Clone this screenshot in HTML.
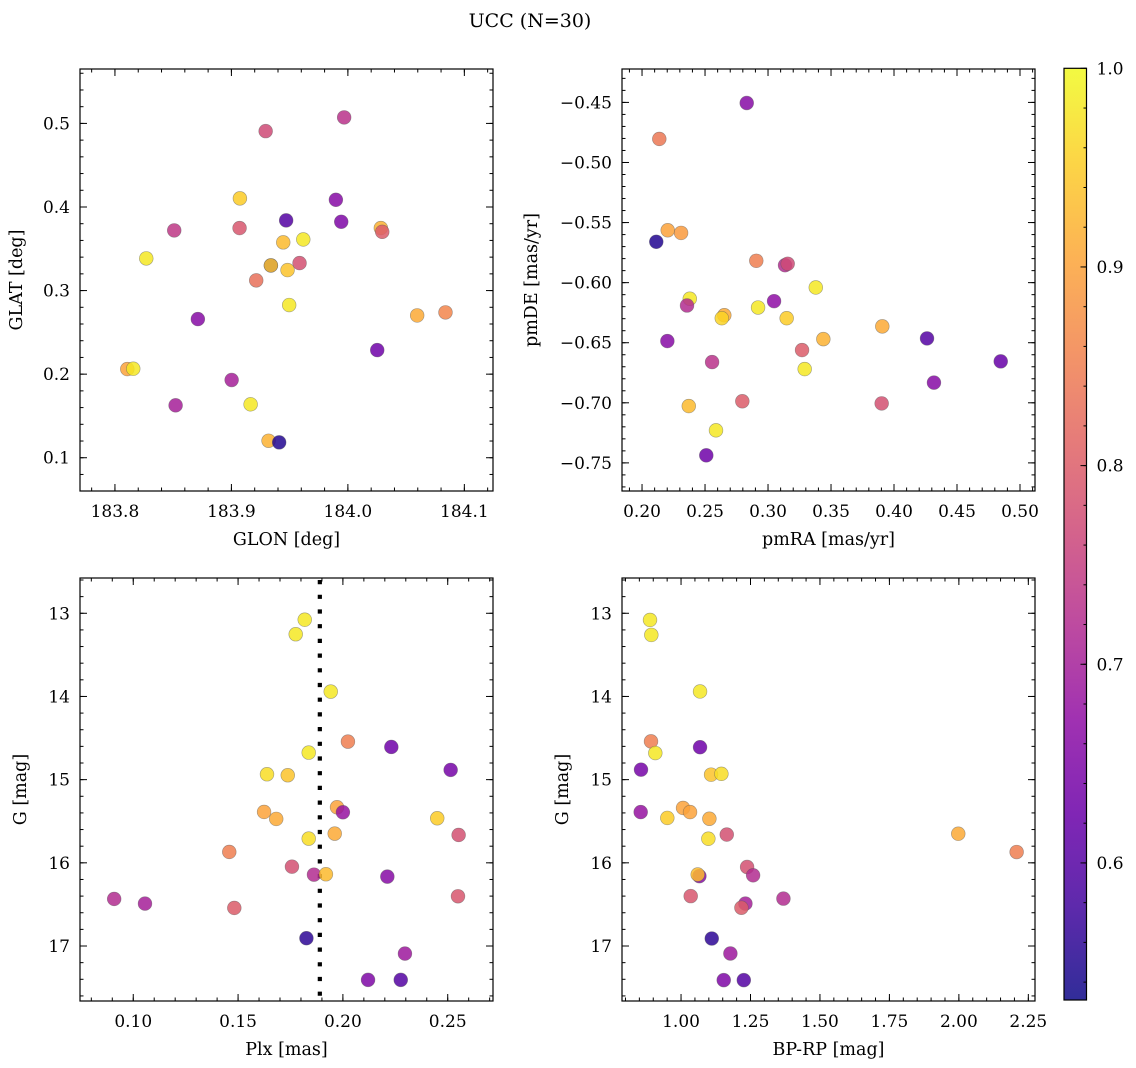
<!DOCTYPE html>
<html><head><meta charset="utf-8">
<style>
html,body{margin:0;padding:0;background:#fff;}
svg{display:block;font-family:"DejaVu Serif","Liberation Serif",serif;}
</style></head>
<body>
<svg id="fig" width="1136" height="1068" viewBox="0 0 1136 1068" xmlns="http://www.w3.org/2000/svg">
<text x="530" y="27" font-size="19" text-anchor="middle">UCC (N=30)</text>
</svg>
<script>
// ---- Panel 1: GLON vs GLAT ----
const glonTL = [183.9294,183.9968,183.9073,183.9897,183.9470,183.9943,183.8509,183.9070,184.0283,184.0295,183.9445,183.9617,183.8269,183.9339,183.9339,183.9585,183.9482,183.9213,183.9496,183.8712,184.0595,184.0838,183.8106,183.8157,184.0252,183.9002,183.8521,183.9165,183.9319,183.9410];
const glatTL = [0.4908,0.5072,0.4103,0.4086,0.3840,0.3823,0.3720,0.3748,0.3748,0.3703,0.3577,0.3612,0.3385,0.3301,0.3301,0.3329,0.3245,0.3122,0.2827,0.2659,0.2703,0.2739,0.2061,0.2065,0.2288,0.1930,0.1627,0.1639,0.1203,0.1184];
const probTL = [0.77,0.73,0.95,0.66,0.60,0.65,0.74,0.79,0.92,0.80,0.93,0.98,0.98,0.56,0.94,0.78,0.94,0.83,0.98,0.66,0.91,0.86,0.90,0.98,0.63,0.70,0.70,0.98,0.92,0.55];
// ---- Panel 2: pmRA vs pmDE ----
const pmraTR = [0.2831,0.2137,0.2204,0.2310,0.2113,0.2907,0.3135,0.3156,0.3379,0.2379,0.2357,0.3048,0.2921,0.2653,0.2633,0.3148,0.3907,0.4262,0.2201,0.3439,0.3270,0.4847,0.2556,0.3291,0.4317,0.2796,0.3902,0.2371,0.2587,0.2510];
const pmdeTR = [-0.4505,-0.4804,-0.5564,-0.5586,-0.5660,-0.5818,-0.5855,-0.5843,-0.6040,-0.6134,-0.6190,-0.6154,-0.6207,-0.6271,-0.6296,-0.6296,-0.6364,-0.6464,-0.6486,-0.6470,-0.6561,-0.6655,-0.6661,-0.6719,-0.6832,-0.6987,-0.7005,-0.7027,-0.7229,-0.7437];
const probTR = [0.66,0.84,0.90,0.89,0.55,0.85,0.72,0.77,0.98,0.98,0.72,0.67,0.98,0.91,0.96,0.95,0.91,0.60,0.66,0.92,0.80,0.62,0.73,0.98,0.66,0.80,0.78,0.93,0.98,0.63];
// ---- Panel 3: Plx vs G ----
const plxBL = [0.1818,0.1775,0.1942,0.2024,0.2231,0.1837,0.2514,0.1638,0.1737,0.1624,0.1682,0.1972,0.2000,0.2450,0.2552,0.1961,0.1837,0.1458,0.1757,0.1862,0.1919,0.2212,0.2549,0.0909,0.1056,0.1482,0.1826,0.2296,0.2120,0.2276];
const gBL = [13.077,13.252,13.942,14.543,14.607,14.675,14.883,14.935,14.947,15.388,15.472,15.332,15.392,15.464,15.665,15.649,15.709,15.869,16.046,16.142,16.137,16.166,16.402,16.434,16.490,16.542,16.906,17.091,17.407,17.407];
const probBL = [0.98,0.98,0.98,0.85,0.63,0.98,0.64,0.97,0.94,0.90,0.91,0.90,0.68,0.95,0.78,0.91,0.97,0.85,0.78,0.72,0.93,0.66,0.79,0.72,0.70,0.80,0.56,0.69,0.65,0.60];
const plxCut = [0.189];
// ---- Panel 4: BP-RP vs G ----
const bprpBR = [0.8883,0.8930,1.0684,0.8919,1.0684,0.9074,0.8559,1.1081,1.1452,0.8548,1.0072,1.0324,0.9506,1.1020,1.1646,1.0983,1.9978,2.2079,1.2378,1.2594,1.0660,1.0600,1.0348,1.3685,1.2317,1.2173,1.1106,1.1776,1.1537,1.2259];
const gBR = [13.08,13.26,13.94,14.54,14.61,14.68,14.88,14.94,14.93,15.39,15.34,15.39,15.46,15.47,15.66,15.71,15.65,15.87,16.05,16.15,16.16,16.14,16.40,16.43,16.49,16.54,16.91,17.09,17.41,17.41];
const probBR = [0.98,0.98,0.98,0.85,0.63,0.98,0.64,0.94,0.97,0.68,0.90,0.90,0.95,0.91,0.78,0.97,0.91,0.85,0.78,0.72,0.66,0.93,0.79,0.72,0.70,0.80,0.56,0.69,0.65,0.60];
// ---- tick labels ----
const ticksTLx = [183.8,183.9,184.0,184.1];
const ticksTLy = [0.1,0.2,0.3,0.4,0.5];
const ticksTRx = [0.20,0.25,0.30,0.35,0.40,0.45,0.50];
const ticksTRy = [-0.75,-0.70,-0.65,-0.60,-0.55,-0.50,-0.45];
const ticksBLx = [0.10,0.15,0.20,0.25];
const ticksGy = [13,14,15,16,17];
const ticksBRx = [1.00,1.25,1.50,1.75,2.00,2.25];
const ticksCbar = [0.6,0.7,0.8,0.9,1.0];
const cRange = [0.531,1.0];

const NS = "http://www.w3.org/2000/svg";
const svg = document.getElementById('fig');
const TF = 17, LF = 17.5;
function mk(tag, attrs, parent){
  const e = document.createElementNS(NS, tag);
  for (const k in attrs) e.setAttribute(k, attrs[k]);
  (parent||svg).appendChild(e);
  return e;
}
const plasma = [[13,8,135],[65,4,157],[106,0,168],[143,13,164],[177,42,144],[204,71,120],[225,100,98],[242,132,75],[252,166,54],[252,206,37],[240,249,33]];
function cmap(v){
  let t = (v - cRange[0])/(cRange[1]-cRange[0]);
  t = Math.max(0, Math.min(1, t));
  const f = t*10, i = Math.min(9, Math.floor(f)), r = f - i;
  const a = plasma[i], b = plasma[i+1];
  return 'rgb(' + [0,1,2].map(k => Math.round(a[k]+(b[k]-a[k])*r)).join(',') + ')';
}
function lin(d0,d1,r0,r1){ return v => r0 + (v-d0)/(d1-d0)*(r1-r0); }

function panel(cfg){
  const g = mk('g', {});
  
  
  const X = lin(cfg.xd[0], cfg.xd[1], cfg.L, cfg.R);
  const Y = lin(cfg.yd[0], cfg.yd[1], cfg.B, cfg.T);
  const tk = (x1,y1,x2,y2) => mk('line',{x1,y1,x2,y2,stroke:'#000','stroke-width':1},g);
  const lo = Math.min(...cfg.xd), hi = Math.max(...cfg.xd);
  for (let v = Math.ceil(lo/cfg.xm - 1e-6)*cfg.xm; v <= hi + 1e-9; v += cfg.xm){
    const x = X(v); tk(x,cfg.B,x,cfg.B-3.5); tk(x,cfg.T,x,cfg.T+3.5);
  }
  const ylo = Math.min(...cfg.yd), yhi = Math.max(...cfg.yd);
  for (let v = Math.ceil(ylo/cfg.ym - 1e-6)*cfg.ym; v <= yhi + 1e-9; v += cfg.ym){
    const y = Y(v); tk(cfg.L,y,cfg.L+3.5,y); tk(cfg.R,y,cfg.R-3.5,y);
  }
  cfg.xt.forEach(v => {
    const x = X(v); tk(x,cfg.B,x,cfg.B-7); tk(x,cfg.T,x,cfg.T+7);
    const t = mk('text',{x:x,y:cfg.B+26,'font-size':TF,'text-anchor':'middle'},g);
    
    
    t.textContent = cfg.xf(v);
  });
  cfg.yt.forEach(v => {
    const y = Y(v); tk(cfg.L,y,cfg.L+7,y); tk(cfg.R,y,cfg.R-7,y);
    const t = mk('text',{x:cfg.L-10,y:y+6,'font-size':TF,'text-anchor':'end'},g);
    
    
    t.textContent = cfg.yf(v);
  });
  if (cfg.vline){
    const vl = mk('line',{x1:X(cfg.vline[0]),x2:X(cfg.vline[0]),y1:cfg.T+2,y2:cfg.B,stroke:'#000','stroke-width':4.2,'stroke-dasharray':'4.2 10.5'},g);
    
    
  }
  cfg.xs.forEach((v,i) => {
    const c = mk('circle',{cx:X(v),cy:Y(cfg.ys[i]),r:6.9,fill:cmap(cfg.cs[i]),'fill-opacity':0.85,stroke:'rgba(90,90,90,0.55)','stroke-width':0.6},g);
    
    
  });
  const fr = mk('rect',{x:cfg.L,y:cfg.T,width:cfg.R-cfg.L,height:cfg.B-cfg.T,fill:'none',stroke:'#000','stroke-width':1.2},g);
  
  
  const xl = mk('text',{x:(cfg.L+cfg.R)/2,y:cfg.B+54,'font-size':LF,'text-anchor':'middle'},g);
  
  
  xl.textContent = cfg.xl;
  const yl = mk('text',{x:0,y:0,'font-size':LF,'text-anchor':'middle',transform:'translate('+cfg.ylx+','+((cfg.T+cfg.B)/2)+') rotate(-90)'},g);
  
  
  yl.textContent = cfg.yl;
}
const m = v => (v<0?'\u2212':'') + Math.abs(v);
panel({name:'glon-glat-panel',L:80,R:493,T:69,B:491,xd:[183.770,184.1246],yd:[0.0602,0.5651],xm:0.02,ym:0.02,
  xt:ticksTLx,yt:ticksTLy,xf:v=>v.toFixed(1),yf:v=>v.toFixed(1),xs:glonTL,ys:glatTL,cs:probTL,xl:'GLON [deg]',yl:'GLAT [deg]',ylx:22});
panel({name:'pm-panel',L:622,R:1035,T:69,B:491,xd:[0.1841,0.5119],yd:[-0.7734,-0.4222],xm:0.01,ym:0.01,
  xt:ticksTRx,yt:ticksTRy,xf:v=>v.toFixed(2),yf:v=>m(+v.toFixed(2)).replace(/(\.\d)$/,'$10'),xs:pmraTR,ys:pmdeTR,cs:probTR,xl:'pmRA [mas/yr]',yl:'pmDE [mas/yr]',ylx:537});
panel({name:'plx-g-panel',L:80,R:493,T:578,B:1001,xd:[0.0746,0.2716],yd:[17.661,12.576],xm:0.01,ym:0.2,
  xt:ticksBLx,yt:ticksGy,xf:v=>v.toFixed(2),yf:v=>String(v),xs:plxBL,ys:gBL,cs:probBL,xl:'Plx [mas]',yl:'G [mag]',ylx:26,vline:plxCut});
panel({name:'cmd-panel',L:622,R:1035,T:578,B:1001,xd:[0.7875,2.274],yd:[17.661,12.576],xm:0.05,ym:0.2,
  xt:ticksBRx,yt:ticksGy,xf:v=>v.toFixed(2),yf:v=>String(v),xs:bprpBR,ys:gBR,cs:probBR,xl:'BP-RP [mag]',yl:'G [mag]',ylx:568});

// colorbar
(function(){
  const L=1064,R=1086.5,T=68.3,B=1000;
  const g = mk('g',{});
  
  
  const defs = mk('defs',{},g);
  const lg = mk('linearGradient',{id:'cg',x1:0,y1:1,x2:0,y2:0},defs);
  for (let i=0;i<=20;i++){
    const v = cRange[0] + (cRange[1]-cRange[0])*i/20;
    mk('stop',{offset:(i/20),'stop-color':cmap(v),'stop-opacity':0.85},lg);
  }
  const r = mk('rect',{x:L,y:T,width:R-L,height:B-T,fill:'url(#cg)',stroke:'#000','stroke-width':1.2},g);
  
  
  const Y = lin(cRange[0],cRange[1],B,T);
  for (let v=0.54; v<=1.0001; v+=0.02){
    mk('line',{x1:R,x2:R-3,y1:Y(v),y2:Y(v),stroke:'#000','stroke-width':1},g);
  }
  ticksCbar.forEach(v => {
    mk('line',{x1:R,x2:R-6,y1:Y(v),y2:Y(v),stroke:'#000','stroke-width':1},g);
    const t = mk('text',{x:R+10,y:Y(v)+6,'font-size':TF},g);
    
    
    t.textContent = v.toFixed(1);
  });
})();
</script>
</body></html>
